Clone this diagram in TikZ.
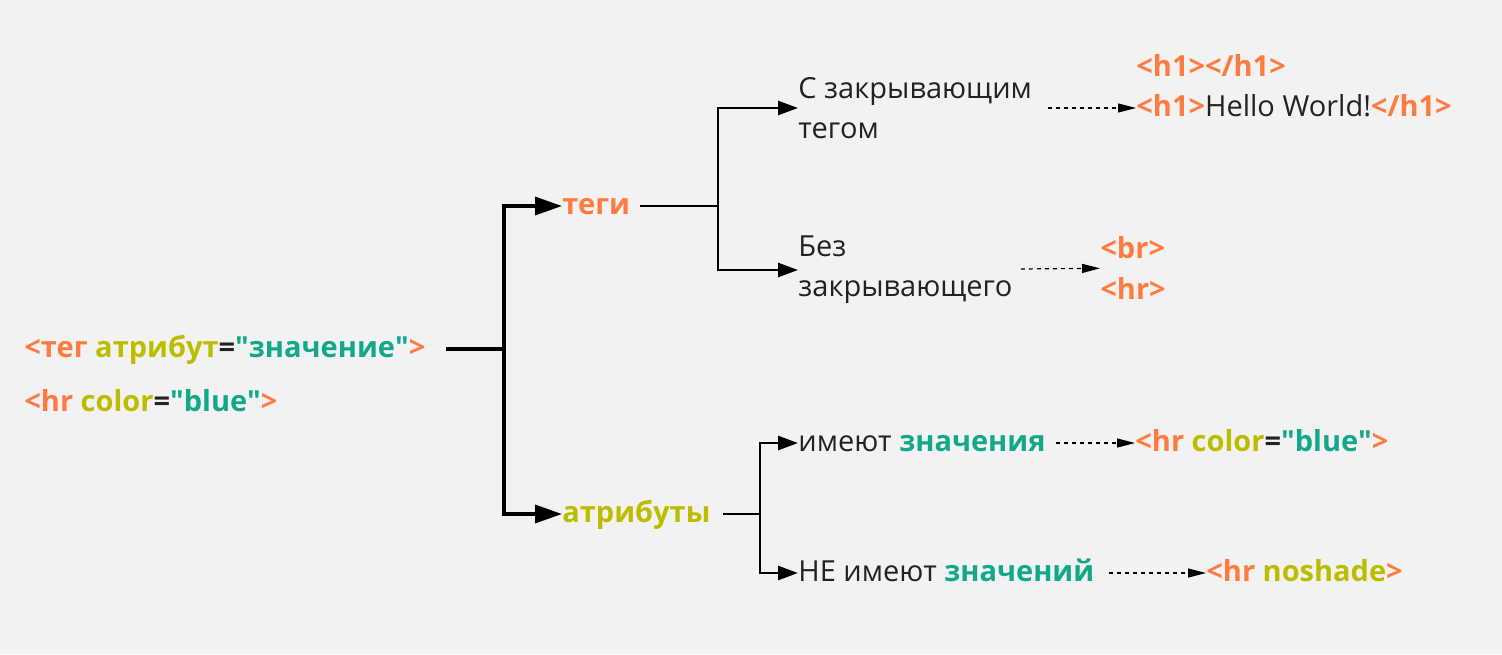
\documentclass[tikz,border=0pt]{standalone}
\usepackage{fontspec}
\setmainfont{Open Sans}
\usetikzlibrary{arrows.meta}
\definecolor{paper}{HTML}{F2F2F2}
\definecolor{tagorange}{HTML}{FF7B3F}
\definecolor{attrolive}{HTML}{BDBD00}
\definecolor{valteal}{HTML}{12A88A}
\definecolor{txtdark}{HTML}{222222}
\newcommand{\tagtxt}[1]{\textcolor{tagorange}{\bfseries #1}}
\newcommand{\attrtxt}[1]{\textcolor{attrolive}{\bfseries #1}}
\newcommand{\valtxt}[1]{\textcolor{valteal}{\bfseries\textquotedbl #1\textquotedbl}}
\newcommand{\plainval}[1]{\textcolor{valteal}{\bfseries #1}}
\newcommand{\eqtxt}{\textcolor{txtdark}{\bfseries =}}
\tikzset{
  lbl/.style = {inner sep=0pt, anchor=west, text=txtdark, font=\fontsize{14.5}{17}\selectfont,
    text height=11pt, text depth=3pt},
  twolines/.style = {inner sep=0pt, anchor=west, text=txtdark, align=left,
    font=\fontsize{14.5}{20}\selectfont},
  trunk/.style = {line width=2pt},
  trunkarrow/.style = {line width=1.7pt, -{Triangle[length=13.5pt,width=9pt]}},
  branch/.style = {line width=1.3pt},
  brancharrow/.style = {line width=1.3pt, -{Triangle[length=10pt,width=7pt]}},
  hint/.style = {line width=0.6pt, dash pattern=on 2pt off 2pt, -{Triangle[length=9pt,width=4.5pt]}}
}
\begin{document}
\begin{tikzpicture}[x=0.5pt, y=-0.5pt]
  \fill[paper] (0,0) rectangle (1502,654);
  \useasboundingbox (0,0) rectangle (1502,654);

  \node[lbl] (rootline) at (24,349) {\tagtxt{<тег} \attrtxt{атрибут}\eqtxt\valtxt{значение}\tagtxt{>}};
  \node[lbl] (rootex) at (24,403) {\tagtxt{<hr} \attrtxt{color}\eqtxt\valtxt{blue}\tagtxt{>}};

  \node[lbl] (tags) at (562,206) {\tagtxt{теги}};
  \node[lbl] (attrs) at (562,514) {\attrtxt{атрибуты}};

  \node[twolines] (closing) at (798,108) {С закрывающим\\тегом};
  \node[twolines] (noclosing) at (798,270) {Без\\закрывающего};
  \node[lbl] (hasval) at (798,443) {имеют \plainval{значения}};
  \node[lbl] (noval) at (798,573) {НЕ имеют \plainval{значений}};

  \node[lbl] (h1empty) at (1136,68) {\tagtxt{<h1></h1>}};
  \node[lbl] (h1full) at (1136,108) {\tagtxt{<h1>}Hello World!\tagtxt{</h1>}};
  \node[twolines, font=\fontsize{14.5}{20.5}\selectfont] (brhr) at (1100,268) {\tagtxt{<br>}\\\tagtxt{<hr>}};
  \node[lbl] (hrcolor) at (1135,443) {\tagtxt{<hr} \attrtxt{color}\eqtxt\valtxt{blue}\tagtxt{>}};
  \node[lbl] (hrnoshade) at (1206,573) {\tagtxt{<hr} \attrtxt{noshade}\tagtxt{>}};

  \coordinate (fork) at (504,349);
  \coordinate (forktags) at (718,206);
  \coordinate (forkattrs) at (760,514);

  \draw[trunk, shorten <=10pt] (rootline) -- (fork);
  \draw[trunkarrow] (fork) |- (tags);
  \draw[trunkarrow] (fork) |- (attrs);

  \draw[branch, shorten <=5pt] (tags) -- (forktags);
  \draw[brancharrow] (forktags) |- (closing);
  \draw[brancharrow] (forktags) |- (noclosing);
  \draw[branch, shorten <=6pt] (attrs) -- (forkattrs);
  \draw[brancharrow] (forkattrs) |- (hasval);
  \draw[brancharrow] (forkattrs) |- (noval);

  \draw[hint, shorten <=8pt] (closing) -- (closing -| h1full.west);
  \draw[hint, shorten <=4pt] (noclosing) -- (brhr);
  \draw[hint, shorten <=5pt] (hasval) -- (hrcolor);
  \draw[hint, shorten <=7pt] (noval) -- (hrnoshade);
\end{tikzpicture}
\end{document}
